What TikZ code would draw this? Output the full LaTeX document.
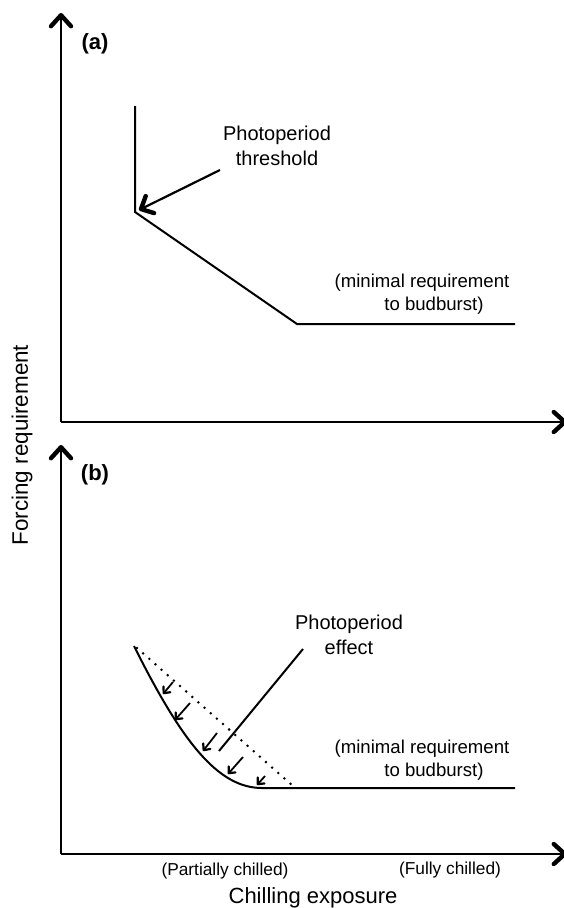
\documentclass[tikz,border=0pt]{standalone}
\usepackage{fontspec}
\setmainfont{Liberation Sans}
\usetikzlibrary{arrows.meta}
\begin{document}
\begin{tikzpicture}[x=1pt,y=-1pt,
  axis/.style={line width=2.2pt, -{Straight Barb[round,length=11pt,width=20pt,line width=4.4pt]}},
  curve/.style={line width=2pt},
  bigarrow/.style={line width=2.2pt, -{Straight Barb[round,length=10pt,width=19pt,line width=4.4pt]}},
  smallarrow/.style={line width=1.8pt, -{Straight Barb[round,length=5pt,width=9pt,line width=2.2pt]}},
  lbl/.style={inner sep=0pt, align=center},
  panel/.style={inner sep=0pt, font=\fontsize{22}{26}\selectfont\bfseries},
  note/.style={inner sep=0pt, align=center, font=\fontsize{18.6}{23.5}\selectfont}
]
\useasboundingbox[fill=white] (0,0) rectangle (564,908);

% ---------- panel (a) ----------
\coordinate (Ao) at (61,422);
\coordinate (Ay) at (61,13);
\coordinate (Ax) at (567,422);
\draw[axis] (Ao) -- (Ay);
\draw[axis] (Ao) -- (Ax);

\coordinate (A1) at (135,106);
\coordinate (A2) at (135,212);
\coordinate (A3) at (297,324);
\coordinate (A4) at (515,324);
\draw[curve, line join=miter] (A1) -- (A2) -- (A3) -- (A4);

\node[lbl, font=\fontsize{20}{25}\selectfont] (thr) at (277,146) {Photoperiod\\threshold};
\coordinate (thrS) at (220,170);
\coordinate (thrE) at (139,210);
\draw[bigarrow] (thrS) -- (thrE);

\node[note] (minA) at (422,294) {(minimal requirement\\\hspace*{24pt}to budburst)};
\node[panel] (la) at (95,44) {(a)};

% ---------- panel (b) ----------
\coordinate (Bo) at (61,854);
\coordinate (By) at (61,445);
\coordinate (Bx) at (567,854);
\draw[axis] (Bo) -- (By);
\draw[axis] (Bo) -- (Bx);

\coordinate (B1) at (134,646);
\coordinate (B2) at (262,788);
\coordinate (B3) at (515,788);
\draw[curve] (B1) .. controls (182,742) and (218,788) .. (B2) -- (B3);

\coordinate (D1) at (137,648);
\coordinate (D2) at (293,786);
\draw[line width=2.8pt, line cap=round, dash pattern=on 0pt off 8.2pt] (D1) -- (D2);

\coordinate (s1) at (173,682); \coordinate (e1) at (163,694);
\coordinate (s2) at (190,703); \coordinate (e2) at (175,720);
\coordinate (s3) at (217,733); \coordinate (e3) at (203,751);
\coordinate (s4) at (243,757); \coordinate (e4) at (228,774);
\coordinate (s5) at (265,776); \coordinate (e5) at (257,785);
\draw[smallarrow] (s1) -- (e1);
\draw[smallarrow] (s2) -- (e2);
\draw[smallarrow] (s3) -- (e3);
\draw[smallarrow] (s4) -- (e4);
\draw[smallarrow] (s5) -- (e5);

\coordinate (P1) at (303,649);
\coordinate (P2) at (219,751);
\draw[curve] (P1) -- (P2);

\node[lbl, font=\fontsize{20}{25}\selectfont] (eff) at (349,635) {Photoperiod\\effect};
\node[note] (minB) at (422,760) {(minimal requirement\\\hspace*{24pt}to budburst)};
\node[panel] (lb) at (95,475) {(b)};

% ---------- axis labels ----------
\node[inner sep=0pt, font=\fontsize{17.3}{20}\selectfont] (part) at (225,871) {(Partially chilled)};
\node[inner sep=0pt, font=\fontsize{17.3}{20}\selectfont] (full) at (450,870) {(Fully chilled)};
\node[inner sep=0pt, font=\fontsize{22}{26}\selectfont] (xl) at (313,898) {Chilling exposure};
\node[inner sep=0pt, rotate=90, font=\fontsize{22.4}{26}\selectfont] (yl) at (22,445) {Forcing requirement};
\end{tikzpicture}
\end{document}
